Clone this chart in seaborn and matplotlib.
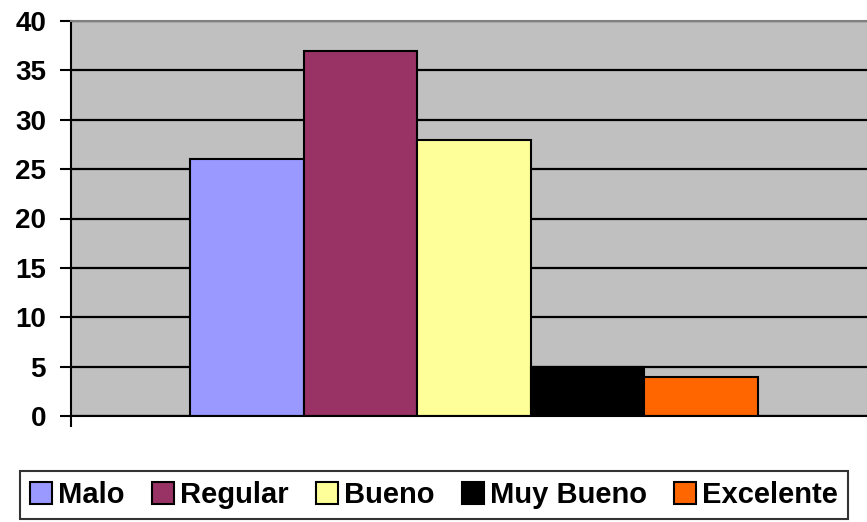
import matplotlib
matplotlib.use("Agg")
import matplotlib.pyplot as plt
import seaborn as sns
import pandas as pd
from matplotlib.patches import Patch

series = ["Malo", "Regular", "Bueno", "Muy Bueno", "Excelente"]
values = [26, 37, 28, 5, 4]
colors = ["#9999FF", "#993366", "#FFFF99", "#000000", "#FF6600"]
yticks = [0, 5, 10, 15, 20, 25, 30, 35, 40]

sns.set_theme(style="white")
plt.rcParams["font.family"] = ["Liberation Sans", "DejaVu Sans"]
plt.rcParams["font.weight"] = "bold"
plt.rcParams["text.color"] = "black"
plt.rcParams["ytick.labelcolor"] = "black"
plt.rcParams["ytick.color"] = "black"

df = pd.DataFrame({"grp": [""] * len(series), "serie": series, "val": values})

W, H = 867, 522
fig = plt.figure(figsize=(W / 100, H / 100), dpi=100)
left, right, top, bottom = 71, 877, 21, 416
ax = fig.add_axes([left / W, 1 - bottom / H, (right - left) / W, (bottom - top) / H])
ax.set_facecolor("#C0C0C0")

sns.barplot(data=df, x="grp", y="val", hue="serie", hue_order=series,
            palette=colors, width=0.8, edgecolor="black", linewidth=1.5,
            legend=False, ax=ax, saturation=1)

ax.set_xlim(-0.5676, 0.5676)
ax.set_ylim(0, 40)
ax.set_yticks(yticks)
ax.set_yticklabels([str(t) for t in yticks], fontsize=20, fontweight="bold", color="black")
ax.yaxis.grid(True, color="black", linewidth=1.6)
ax.set_axisbelow(True)
ax.tick_params(axis="y", direction="out", length=8, width=1.5, color="black", pad=10, left=True)
ax.set_xticks([-0.5676])
ax.set_xticklabels([""])
ax.tick_params(axis="x", direction="out", length=8, width=1.5, color="black", bottom=True)
ax.set_xlabel("")
ax.set_ylabel("")
for s in ["left", "bottom"]:
    ax.spines[s].set_color("black")
    ax.spines[s].set_linewidth(1.5)
ax.spines["top"].set_color("#808080")
ax.spines["top"].set_linewidth(1.5)
ax.spines["right"].set_visible(False)

handles = [Patch(facecolor=c, edgecolor="black", linewidth=1.5) for c in colors]
leg = fig.legend(handles, series, loc="center", bbox_to_anchor=(434 / W, 1 - 495 / H),
                 ncol=5, frameon=True, fancybox=False, edgecolor="black",
                 prop={"size": 21, "weight": "bold"}, handlelength=0.75, handleheight=0.75,
                 handletextpad=0.2, columnspacing=0.95, borderpad=0.35, borderaxespad=0)
leg.get_frame().set_linewidth(1.5)
for t in leg.get_texts():
    t.set_color("black")

fig.savefig("out.png", dpi=100)
